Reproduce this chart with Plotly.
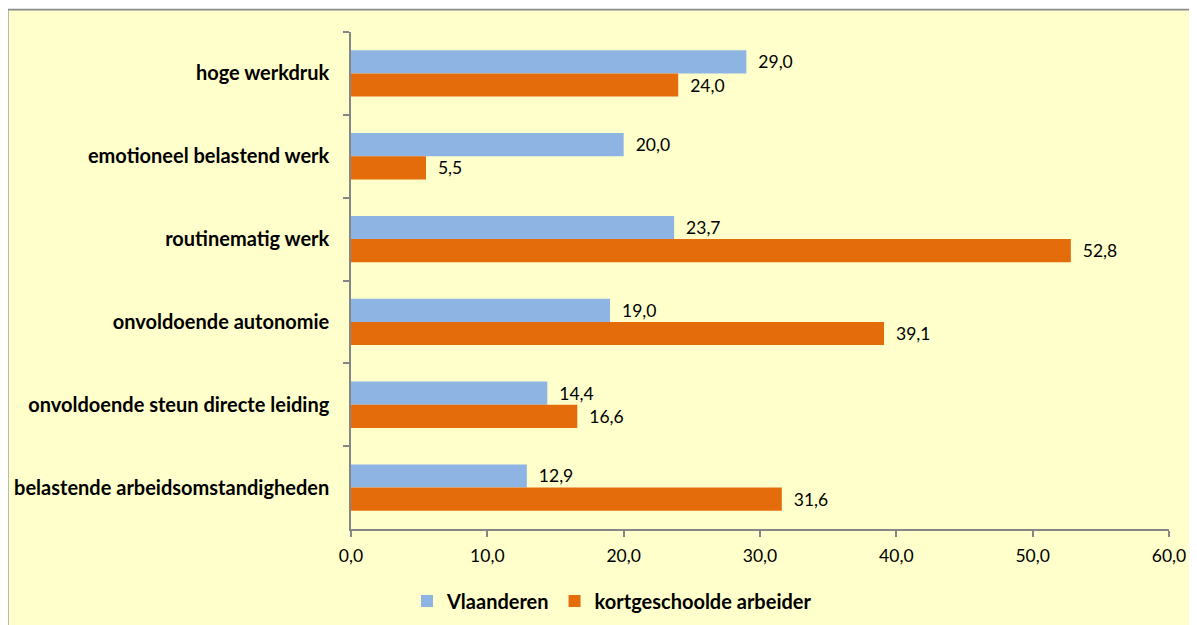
import plotly.graph_objects as go

categories = ["hoge werkdruk", "emotioneel belastend werk", "routinematig werk",
              "onvoldoende autonomie", "onvoldoende steun directe leiding",
              "belastende arbeidsomstandigheden"]
vlaanderen = [29.0, 20.0, 23.7, 19.0, 14.4, 12.9]
kortgeschoold = [24.0, 5.5, 52.8, 39.1, 16.6, 31.6]
x_ticks = [0, 10, 20, 30, 40, 50, 60]

W, H = 1197, 625
OFF = 8  # default page body margin
L = 351 - OFF
R = W - (1169 - OFF)
T = 32 - OFF
B = H - (529 - OFF)
pw, ph = W - L - R, H - T - B

def fmt(v):
    return f"{v:.1f}".replace(".", ",")

FONT = "Lato"
NUM_SIZE = 17.5
TXT_SIZE = 20

fig = go.Figure()
fig.add_trace(go.Bar(
    y=categories, x=vlaanderen, orientation="h", name="Vlaanderen",
    marker=dict(color="#8EB4E3", line=dict(width=0)),
    text=[fmt(v) for v in vlaanderen], texttemplate="  %{text}",
    textposition="outside",
    textfont=dict(family=FONT, size=NUM_SIZE, color="#000000"), cliponaxis=False,
))
fig.add_trace(go.Bar(
    y=categories, x=kortgeschoold, orientation="h", name="kortgeschoolde arbeider",
    marker=dict(color="#E46C0A", line=dict(width=0)),
    text=[fmt(v) for v in kortgeschoold], texttemplate="  %{text}",
    textposition="outside",
    textfont=dict(family=FONT, size=NUM_SIZE, color="#000000"), cliponaxis=False,
))

def px_x(p):
    return (p - OFF - L) / pw

def px_y(p):
    return (H - B - (p - OFF)) / ph

fig.add_shape(type="rect", xref="paper", yref="paper", layer="below",
              x0=px_x(7.8), x1=px_x(1230), y0=px_y(660), y1=px_y(9.6),
              fillcolor="#FFFFCC", line=dict(color="#8C8C8C", width=1.6))

fig.update_layout(
    width=W, height=H,
    margin=dict(l=L, r=R, t=T, b=B, autoexpand=False),
    paper_bgcolor="#FFFFFF", plot_bgcolor="rgba(0,0,0,0)",
    barmode="group", bargap=0.44, bargroupgap=0,
    separators=", ",
    font=dict(family=FONT, size=NUM_SIZE, color="#000000"),
    showlegend=True,
    legend=dict(orientation="h", x=px_x(612), xanchor="center",
                y=px_y(601), yanchor="middle",
                font=dict(family=FONT, size=TXT_SIZE, color="#000000", weight="bold"),
                bgcolor="rgba(0,0,0,0)", traceorder="normal"),
    xaxis=dict(range=[0, 60], tickvals=x_ticks, tickformat=".1f",
               showgrid=False, zeroline=False, showline=True,
               linecolor="#868686", linewidth=1.5, ticks="outside",
               ticklen=6, tickcolor="#868686", tickwidth=1.5,
               ticklabelstandoff=4,
               tickfont=dict(family=FONT, size=NUM_SIZE, color="#000000")),
    yaxis=dict(autorange="reversed", showgrid=False, zeroline=False,
               showline=True, linecolor="#868686", linewidth=1.5,
               ticks="outside", tickson="boundaries", ticklen=6,
               tickcolor="#868686", tickwidth=1.5, ticklabelstandoff=16,
               tickfont=dict(family=FONT, size=TXT_SIZE, color="#000000", weight="bold")),
)

fig.write_html("out.html")
